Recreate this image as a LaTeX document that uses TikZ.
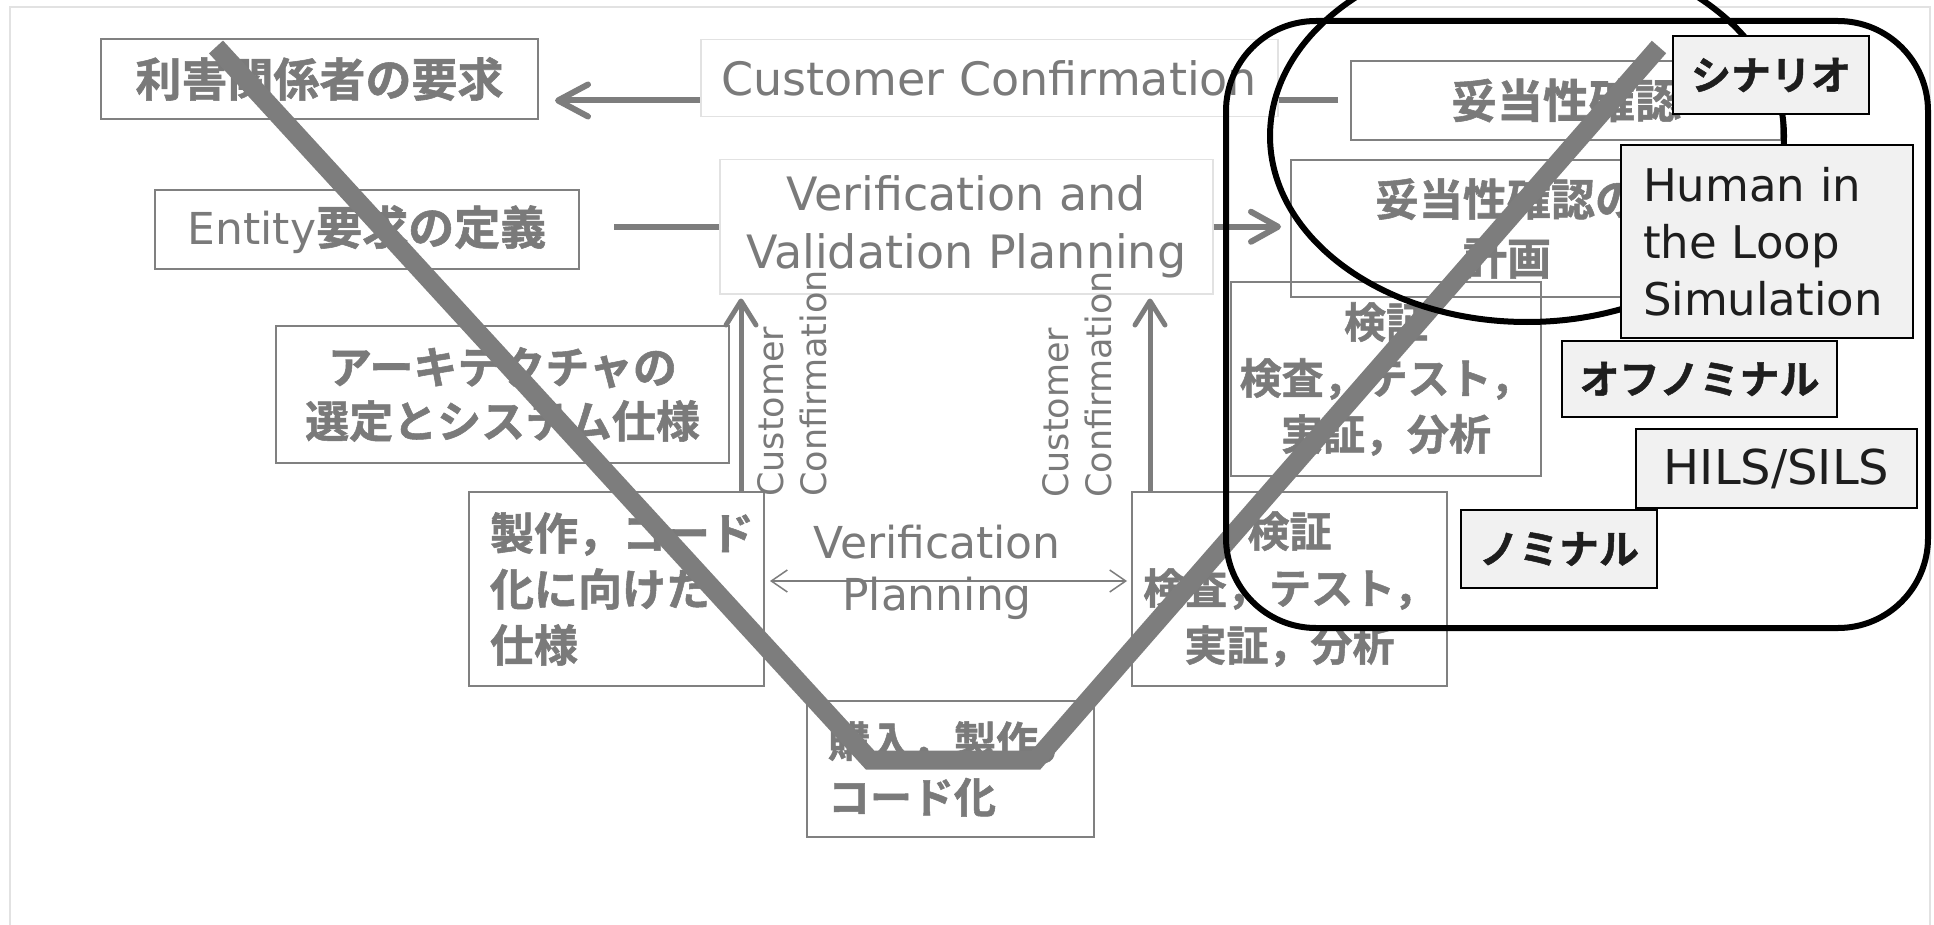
\documentclass[tikz,border=0pt]{standalone}
\usepackage{fontspec}
\setmainfont{DejaVu Sans}
\newfontfamily\jp{Noto Sans CJK JP}[BoldFont={Noto Sans CJK JP Bold}, BoldFeatures={FakeBold=1.2}]
\usetikzlibrary{arrows.meta}
\definecolor{tg}{RGB}{122,122,122}
\definecolor{bc}{RGB}{128,128,128}
\definecolor{lb}{RGB}{226,226,226}
\definecolor{ag}{RGB}{125,125,125}
\definecolor{fg}{RGB}{241,241,241}
\definecolor{tk}{RGB}{30,30,30}
\newcommand\myfs[2]{\fontsize{#1}{#2}\selectfont}
\newcommand\jpB[2]{\jp\bfseries\fontsize{#1}{#2}\selectfont}
\begin{document}
\begin{tikzpicture}[x=1pt,y=-1pt,
  gbox/.style={draw=bc, line width=2pt, inner sep=0pt, anchor=north west, text=tg},
  lbox/.style={draw=lb, line width=1.5pt, fill=white, inner sep=0pt, anchor=north west, text=tg},
  kbox/.style={draw=black, line width=2pt, fill=fg, inner sep=0pt, anchor=north west, text=tk},
  conn/.style={draw=ag, line width=6pt},
  bigtip/.style={-{Straight Barb[length=30pt,width=32pt,round]}},
  midtip/.style={-{Straight Barb[length=24pt,width=30pt,round]}},
  vtext/.style={rotate=90, anchor=north west, align=left, inner sep=0pt, text=tg, font=\myfs{35}{43}},
  vline/.style={draw=ag, line width=19pt, line join=miter, line cap=butt},
  blk/.style={draw=black, line width=6pt}
]
\useasboundingbox (0,0) rectangle (1934,925);
\fill[white] (0,0) rectangle (1934,925);
\draw[lb, line width=1.5pt] (10,930) -- (10,7) -- (1930,7) -- (1930,930);

% process boxes
\node[gbox, minimum width=437pt, minimum height=80pt, font={\jpB{46}{55}}] (req) at (100,38) {利害関係者の要求};
\node[gbox, minimum width=424pt, minimum height=79pt, font={\myfs{44}{52}}] (ent) at (154,189) {Entity{\jpB{46}{55}要求の定義}};
\node[gbox, minimum width=430pt, minimum height=79pt, font={\jpB{46}{55}}] (val) at (1350,60) {妥当性確認};
\node[gbox, minimum width=432pt, minimum height=137pt, align=center, font={\jpB{44}{59}}] (valp) at (1290,159) {妥当性確認の\\計画};
\node[gbox, minimum width=310pt, minimum height=194pt, align=center, font={\jpB{42}{56}}] (ver1) at (1230,281) {検証\\検査，テスト，\\実証，分析};
\node[gbox, minimum width=453pt, minimum height=137pt, align=center, font={\jpB{44}{54}}] (arch) at (275,325) {アーキテクチャの\\選定とシステム仕様};
\node[gbox, minimum width=295pt, minimum height=194pt, inner xsep=21pt, text width=253pt, align=left, font={\jpB{44}{56}}] (impl) at (468,491) {製作，コード\\化に向けた\\仕様};
\node[gbox, minimum width=315pt, minimum height=194pt, align=center, font={\jpB{42}{57}}] (ver2) at (1131,491) {検証\\検査，テスト，\\実証，分析};
\node[gbox, minimum width=287pt, minimum height=136pt, inner xsep=21pt, text width=245pt, align=left, font={\jpB{42}{56}}] (buy) at (806,700) {購入，製作，\\コード化};

\node[lbox, minimum width=493pt, minimum height=134pt, align=center, font={\myfs{46}{58}}] (vv) at (719,159) {Verification and\\Validation Planning};

% connectors
\draw[conn, bigtip, shorten <=12pt, shorten >=16pt] (val.west) -- (val.west -| req.east);
\node[lbox, minimum width=577pt, minimum height=77pt, font={\myfs{46}{55}}] (cc) at (700,39) {Customer Confirmation};
\draw[conn, shorten <=34pt] (vv.west -| ent.east) -- (vv.west);
\draw[conn, -{Straight Barb[length=27pt,width=30pt,round]}, shorten >=9pt] (vv.east) -- (vv.east -| valp.west);

\coordinate (la) at ([xshift=-24pt]impl.north east);
\coordinate (ra) at ([xshift=19pt]ver2.north west);
\draw[conn, line width=5pt, midtip, shorten >=4pt] (la) -- (la |- vv.south);
\draw[conn, line width=5pt, midtip, shorten >=4pt] (ra) -- (ra |- vv.south);
\node[vtext] (vc1) at (757,497) {Customer\\Confirmation};
\node[vtext] (vc2) at (1042,498) {Customer\\Confirmation};

\draw[draw=ag, line width=1.5pt, {Straight Barb[length=16pt,width=22pt]}-{Straight Barb[length=16pt,width=22pt]}, shorten <=5pt, shorten >=4pt] ([yshift=8pt]impl.east) -- ([yshift=8pt]impl.east -| ver2.west);
\node[inner sep=0pt, align=center, text=tg, font={\myfs{44}{52}}] (vp) at (937,572) {Verification\\Planning};

% V line
\draw[vline] (216,47) -- (870,760) -- (1036,760) -- (1659,47);

% highlight shapes
\draw[blk] (1527,136) ellipse [x radius=257, y radius=186];
\draw[blk, rounded corners=90pt] (1226,21) rectangle (1928,628);

% tool boxes
\node[kbox, minimum width=196pt, minimum height=78pt, font={\jpB{40}{48}}] (scen) at (1672,35) {シナリオ};
\node[kbox, minimum width=292pt, minimum height=193pt, inner xsep=22pt, text width=248pt, align=left, font={\myfs{45}{57}}] (hitl) at (1620,144) {Human in\\the Loop\\Simulation};
\node[kbox, minimum width=275pt, minimum height=76pt, font={\jpB{40}{48}}] (offn) at (1561,340) {オフノミナル};
\node[kbox, minimum width=281pt, minimum height=79pt, font={\myfs{48}{56}}] (hils) at (1635,428) {HILS/SILS};
\node[kbox, minimum width=196pt, minimum height=78pt, font={\jpB{40}{48}}] (nom) at (1460,509) {ノミナル};
\end{tikzpicture}
\end{document}
